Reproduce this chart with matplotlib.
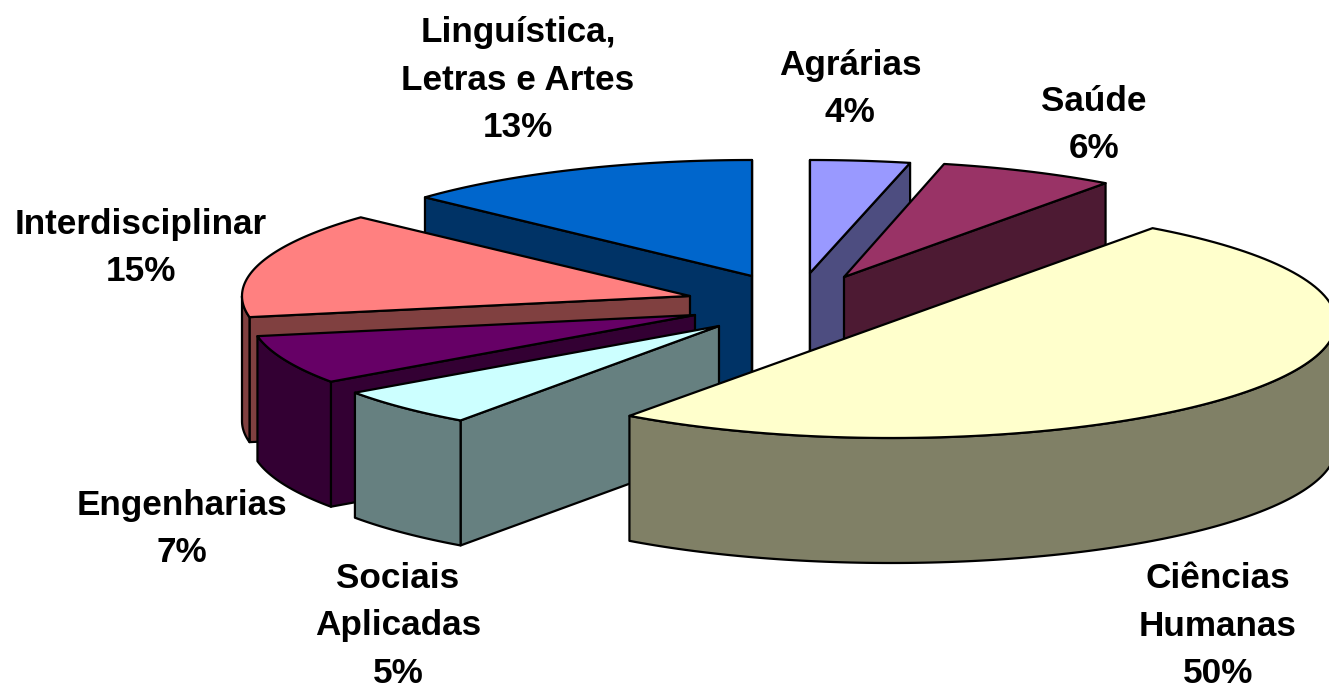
import numpy as np
import matplotlib
matplotlib.use("Agg")
import matplotlib.pyplot as plt
from matplotlib.patches import Polygon

categories = ["Agrárias", "Saúde", "Ciências\nHumanas", "Sociais\nAplicadas",
              "Engenharias", "Interdisciplinar", "Linguística,\nLetras e Artes"]
values = [4, 6, 50, 5, 7, 15, 13]

top_colors = ["#9999FF", "#993366", "#FFFFCC", "#CCFFFF", "#660066", "#FF8080", "#0066CC"]
side_colors = ["#4D4D80", "#4D1A33", "#808066", "#668080", "#330033", "#804040", "#003366"]

# Layout / style: pie centre of each exploded slice, projection radii, extrusion
apex_x = [810, 844, 891, 719, 695, 690, 752]
apex_y = [273, 277, 322, 326, 315, 296, 276]
radius_x = [445, 445, 445, 445, 445, 448, 445]
radius_y = [113, 116, 116, 116, 116, 116, 116]
DEPTH = 125
# small projection corrections (degrees) at the start and end of each slice
start_nudge = [0, -1.4, 0, -0.5, 0.9, 0.3, -0.5]
end_nudge = [-1.4, 0, 0, 0.9, 0.3, -0.5, 0]
draw_order = [6, 0, 1, 5, 4, 3, 2]
label_x = [850, 1094, 1218, 398, 182, 141, 518]
label_y = [89, 125, 626, 626, 529, 248, 80]

fig = plt.figure(figsize=(13.29, 6.89), dpi=100)
ax = fig.add_axes([0, 0, 1, 1])
ax.set_xlim(0, 1329)
ax.set_ylim(689, 0)
ax.axis("off")

fractions = np.array(values, dtype=float) / sum(values)
edges = np.concatenate([[0.0], np.cumsum(fractions) * 360.0])


def rim(cx, cy, rx, ry, a, b, n=120):
    t = np.radians(np.linspace(a, b, n))
    return np.column_stack([cx + rx * np.sin(t), cy - ry * np.cos(t)])


def face(pts, color, z):
    ax.add_patch(Polygon(pts, closed=True, facecolor=color, edgecolor="black",
                         linewidth=1.6, joinstyle="round", zorder=z))


shift = np.array([0, DEPTH])
z = 1
for i in draw_order:
    a, b = edges[i] + start_nudge[i], edges[i + 1] + end_nudge[i]
    cx, cy, rx, ry = apex_x[i], apex_y[i], radius_x[i], radius_y[i]
    apex = np.array([[cx, cy]])
    for phi, visible in ((a, np.sin(np.radians(a)) < -1e-9), (b, np.sin(np.radians(b)) > 1e-9)):
        if visible or phi in (0.0, 360.0):
            p = rim(cx, cy, rx, ry, phi, phi, 1)
            face(np.vstack([apex, p, p + shift, apex + shift]), side_colors[i], z)
            z += 1
    lo, hi = max(a, 90.0), min(b, 270.0)
    if hi > lo:
        arc = rim(cx, cy, rx, ry, lo, hi)
        face(np.vstack([arc, (arc + shift)[::-1]]), side_colors[i], z)
        z += 1
    face(np.vstack([apex, rim(cx, cy, rx, ry, a, b)]), top_colors[i], z)
    z += 1

for name, val, x, y in zip(categories, values, label_x, label_y):
    ax.text(x, y, f"{name}\n{val}%", ha="center", va="center", multialignment="center",
            family="Liberation Sans", fontweight="bold", fontsize=25.3,
            linespacing=1.545, color="black", zorder=100)

fig.savefig("out.png", dpi=100, facecolor="white")
